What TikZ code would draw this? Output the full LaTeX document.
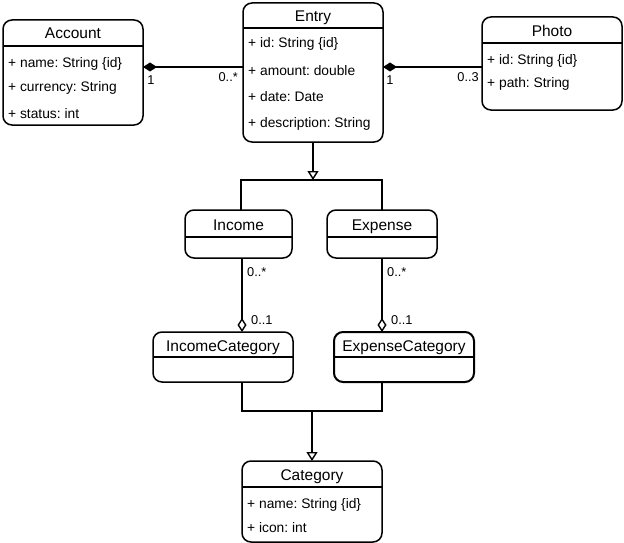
\documentclass[tikz,border=0pt]{standalone}
\usepackage{fontspec}
\setmainfont{Liberation Sans}
\usetikzlibrary{arrows.meta}
\frenchspacing
\tikzset{
  cls/.style={draw, line width=1.5pt, rounded corners=9pt, inner sep=0pt, outer sep=0pt},
  sepline/.style={line width=1.3pt},
  ttl/.style={inner sep=0pt, text height=11pt, text depth=0pt, font=\fontsize{15.5}{17}\selectfont},
  attr/.style={inner sep=0pt, anchor=west, text height=10pt, text depth=0pt, font=\fontsize{13.8}{16}\selectfont},
  mult/.style={inner sep=0pt, text height=9pt, text depth=0pt, font=\fontsize{12.8}{14}\selectfont},
  conn/.style={line width=1.4pt},
  compo/.style={conn, {Diamond[length=14pt,width=9pt]}-},
  aggr/.style={conn, -{Diamond[open,length=14pt,width=9pt]}},
  gener/.style={conn, -{Triangle[open,length=9pt,width=11pt]}},
}
\begin{document}
\begin{tikzpicture}[x=1pt,y=-1pt]
\useasboundingbox (0,0) rectangle (624,543);
% Account
\node[cls, minimum width=140pt, minimum height=105pt] (account) at (73,72.5) {};
\draw[sepline] (account.west |- 0,46) -- (account.east |- 0,46);
\node[ttl] (accountT) at (73,33) {Account};
\node[attr] (acc1) at (8,62) {+ name: String \{id\}};
\node[attr] (acc2) at (8,87) {+ currency: String};
\node[attr] (acc3) at (8,113) {+ status: int};
% Entry
\node[cls, minimum width=140pt, minimum height=139pt] (entry) at (313,72.5) {};
\draw[sepline] (entry.west |- 0,28) -- (entry.east |- 0,28);
\node[ttl] (entryT) at (313,16) {Entry};
\node[attr] (ent1) at (248,43) {+ id: String \{id\}};
\node[attr] (ent2) at (248,70) {+ amount: double};
\node[attr] (ent3) at (248,96) {+ date: Date};
\node[attr] (ent4) at (248,122) {+ description: String};
% Photo
\node[cls, minimum width=140pt, minimum height=93pt] (photo) at (552,63.5) {};
\draw[sepline] (photo.west |- 0,43) -- (photo.east |- 0,43);
\node[ttl] (photoT) at (552,31) {Photo};
\node[attr] (ph1) at (487,60) {+ id: String \{id\}};
\node[attr] (ph2) at (487,83) {+ path: String};
% Income
\node[cls, minimum width=107pt, minimum height=48pt] (income) at (238.5,234) {};
\draw[sepline] (income.west |- 0,237) -- (income.east |- 0,237);
\node[ttl] (incomeT) at (238.5,225) {Income};
% Expense
\node[cls, minimum width=110pt, minimum height=48pt] (expense) at (382,234) {};
\draw[sepline] (expense.west |- 0,237) -- (expense.east |- 0,237);
\node[ttl] (expenseT) at (382,225) {Expense};
% IncomeCategory
\node[cls, minimum width=140pt, minimum height=50pt] (inccat) at (223,357) {};
\draw[sepline] (inccat.west |- 0,357) -- (inccat.east |- 0,357);
\node[ttl] (inccatT) at (223,346) {IncomeCategory};
% ExpenseCategory
\node[cls, line width=2pt, minimum width=140pt, minimum height=50pt] (expcat) at (404,357) {};
\draw[sepline] (expcat.west |- 0,357) -- (expcat.east |- 0,357);
\node[ttl] (expcatT) at (404,346) {ExpenseCategory};
% Category
\node[cls, minimum width=140pt, minimum height=81pt] (category) at (312,501.5) {};
\draw[sepline] (category.west |- 0,487) -- (category.east |- 0,487);
\node[ttl] (categoryT) at (312,475) {Category};
\node[attr] (cat1) at (247,503) {+ name: String \{id\}};
\node[attr] (cat2) at (247,527) {+ icon: int};
% Compositions
\draw[compo] (account.east |- 0,67) -- (entry.west |- 0,67);
\node[mult] (m1) at (151,80) {1};
\node[mult, anchor=east] (m2) at (238,77) {0..*};
\draw[compo] (entry.east |- 0,67) -- (photo.west |- 0,67);
\node[mult] (m3) at (390,80) {1};
\node[mult, anchor=east] (m4) at (479,77) {0..3};
% Generalization Entry
\coordinate (g1) at (313,180);
\draw[gener] (entry.south) -- (g1);
\draw[conn] ([xshift=2.5pt]income.north) |- (g1) -| (expense.north);
% Aggregations
\draw[aggr] (income.south -| 242,0) -- (inccat.north -| 242,0);
\node[mult, anchor=west] (m5) at (247,272) {0..*};
\node[mult, anchor=west] (m6) at (251,320) {0..1};
\draw[aggr] (expense.south) -- (expcat.north -| expense.south);
\node[mult, anchor=west] (m7) at (387,272) {0..*};
\node[mult, anchor=west] (m8) at (391,320) {0..1};
% Generalization Category
\coordinate (g2) at (312,411);
\draw[conn] (inccat.south -| 242,0) |- (g2) -| (expcat.south -| 382,0);
\draw[gener] (g2) -- (category.north);
\end{tikzpicture}
\end{document}
